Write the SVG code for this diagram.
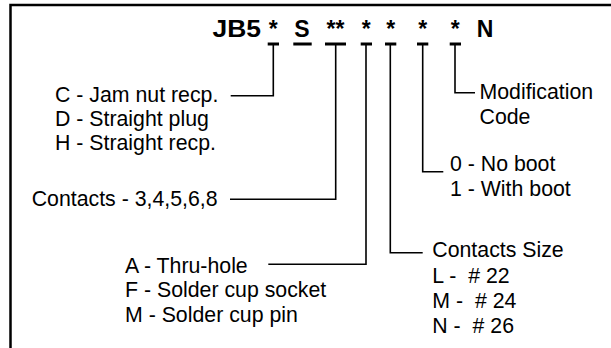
<svg xmlns="http://www.w3.org/2000/svg" width="611" height="348" viewBox="0 0 611 348">
  <style>
    .t { font-family: "Liberation Sans", Arial, sans-serif; font-size: 21.3px; fill: #000; white-space: pre; }
    .h { font-family: "Liberation Sans", Arial, sans-serif; font-size: 23px; font-weight: bold; fill: #000; }
    .c { fill: none; stroke: #000; stroke-width: 1.6; }
    .bar { stroke: #000; stroke-width: 3; }
    .frame { fill: none; stroke: #000; stroke-width: 2.5; }
  </style>
  <rect width="611" height="348" fill="#fff"/>
  <path class="frame" d="M611,5 H10.5 V348"/>

  <g id="title">
    <text class="h" x="212.5" y="36.7" textLength="48.5" lengthAdjust="spacingAndGlyphs">JB5</text>
    <text class="h" x="273.3" y="36.7" text-anchor="middle">*</text>
    <text class="h" x="302" y="36.7" text-anchor="middle">S</text>
    <text class="h" x="335.5" y="36.7" text-anchor="middle">**</text>
    <text class="h" x="366.3" y="36.7" text-anchor="middle">*</text>
    <text class="h" x="390.7" y="36.7" text-anchor="middle">*</text>
    <text class="h" x="422.7" y="36.7" text-anchor="middle">*</text>
    <text class="h" x="455.3" y="36.7" text-anchor="middle">*</text>
    <text class="h" x="476.7" y="36.7">N</text>
    <line class="bar" x1="267.7" y1="44" x2="279" y2="44"/>
    <line class="bar" x1="293.3" y1="44" x2="311.7" y2="44"/>
    <line class="bar" x1="325" y1="44" x2="346" y2="44"/>
    <line class="bar" x1="360.7" y1="44" x2="372" y2="44"/>
    <line class="bar" x1="385" y1="44" x2="396.3" y2="44"/>
    <line class="bar" x1="417" y1="44" x2="428.3" y2="44"/>
    <line class="bar" x1="449.7" y1="44" x2="461" y2="44"/>
  </g>

  <g id="connectors">
    <path class="c" d="M273.3,44 V95.7 H230.7"/>
    <path class="c" d="M335.7,44 V199.3 H230"/>
    <path class="c" d="M366,44 V264.3 H268.3"/>
    <path class="c" d="M390.3,44 V252.7 H422.7"/>
    <path class="c" d="M422.7,44 V171.7 H443.3"/>
    <path class="c" d="M455,44 V92.7 H475"/>
  </g>

  <g id="housing">
    <text class="t" x="55" y="101.5">C - Jam nut recp.</text>
    <text class="t" x="55" y="125.5">D - Straight plug</text>
    <text class="t" x="55" y="150">H - Straight recp.</text>
  </g>

  <g id="contacts">
    <text class="t" x="31.7" y="206">Contacts - 3,4,5,6,8</text>
  </g>

  <g id="termination">
    <text class="t" x="125" y="272.7">A - Thru-hole</text>
    <text class="t" x="125" y="296.7">F - Solder cup socket</text>
    <text class="t" x="125" y="321.7">M - Solder cup pin</text>
  </g>

  <g id="contact-size">
    <text class="t" x="432.3" y="256.7">Contacts Size</text>
    <text class="t" x="432.3" y="282.7">L -  # 22</text>
    <text class="t" x="432.3" y="308.3">M -  # 24</text>
    <text class="t" x="432.3" y="333.3">N -  # 26</text>
  </g>

  <g id="boot">
    <text class="t" x="450" y="170.7">0 - No boot</text>
    <text class="t" x="450" y="195.7">1 - With boot</text>
  </g>

  <g id="modification">
    <text class="t" x="479.5" y="99.3">Modification</text>
    <text class="t" x="479.5" y="124.3">Code</text>
  </g>
</svg>
